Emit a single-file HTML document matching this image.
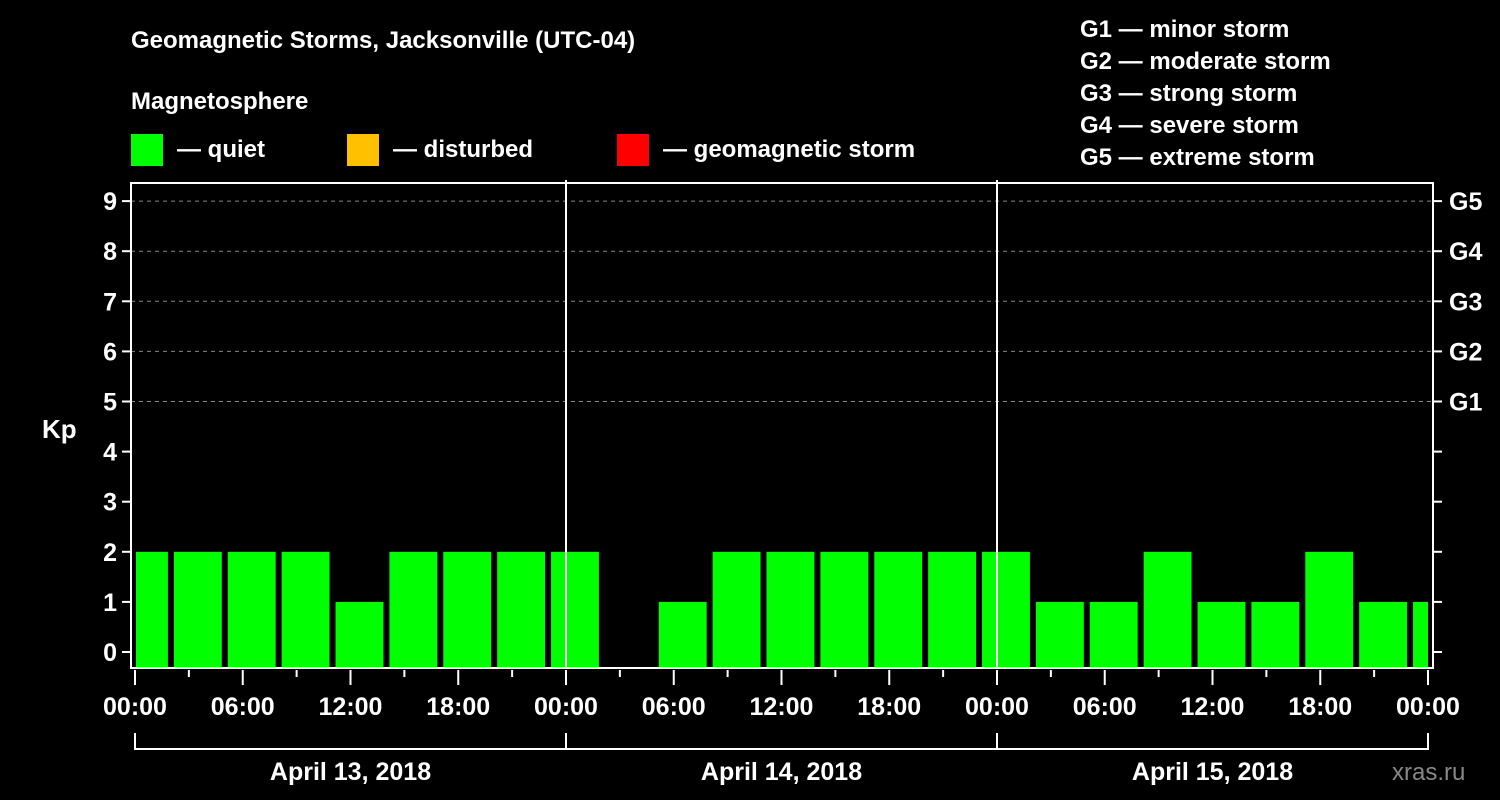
<!DOCTYPE html>
<html><head><meta charset="utf-8"><style>
body{margin:0;background:#000;}
svg{display:block;font-family:"Liberation Sans",Arial,sans-serif;font-weight:bold;}
</style></head><body>
<svg id="chart" width="1500" height="800" viewBox="0 0 1500 800">
<rect x="0" y="0" width="1500" height="800" fill="#000"/>
<text x="131" y="48" fill="#fff" font-size="24">Geomagnetic Storms, Jacksonville (UTC-04)</text>
<text x="131" y="109" fill="#fff" font-size="24">Magnetosphere</text>
<g><rect x="131" y="134" width="32" height="32" fill="#00ff00"/><text x="177" y="157" fill="#fff" font-size="24">— quiet</text></g>
<g><rect x="347" y="134" width="32" height="32" fill="#ffc000"/><text x="393" y="157" fill="#fff" font-size="24">— disturbed</text></g>
<g><rect x="617" y="134" width="32" height="32" fill="#ff0000"/><text x="663" y="157" fill="#fff" font-size="24">— geomagnetic storm</text></g>
<g fill="#fff" font-size="24">
<text x="1080" y="37">G1 — minor storm</text>
<text x="1080" y="69">G2 — moderate storm</text>
<text x="1080" y="101">G3 — strong storm</text>
<text x="1080" y="133">G4 — severe storm</text>
<text x="1080" y="165">G5 — extreme storm</text>
</g>
<text x="42" y="438" fill="#fff" font-size="26">Kp</text>
<text x="1392" y="780" fill="#888" font-size="24" font-weight="normal">xras.ru</text>
<g id="plot"></g>
</svg>
<script>
const kpValues=[2,2,2,2,1,2,2,2,2,0,1,2,2,2,2,2,2,1,1,2,1,1,2,1,1];
const barStartHours=-1;
const kpTicks=[0,1,2,3,4,5,6,7,8,9];
const gLabels=["G1","G2","G3","G4","G5"];
const timeLabels=["00:00","06:00","12:00","18:00","00:00","06:00","12:00","18:00","00:00","06:00","12:00","18:00","00:00"];
const dayLabels=["April 13, 2018","April 14, 2018","April 15, 2018"];

const NS="http://www.w3.org/2000/svg";
const g=document.getElementById('plot');
const X0=135,X1=1428,H=72;
const x=h=>X0+(X1-X0)*h/H;
const y=k=>652-k*50.1;
const L=131,R=1433,T=183,B=668;
function mk(t,a){const e=document.createElementNS(NS,t);for(const k in a)e.setAttribute(k,a[k]);g.appendChild(e);return e;}
function col(v){return v>=5?'#ff0000':(v>=4?'#ffc000':'#00ff00');}
// grid
for(const k of kpTicks){
  if(k>=5){const l=mk('line',{x1:L,x2:R,y1:y(k),y2:y(k),stroke:'#888','stroke-dasharray':'4 4','stroke-width':1});
  
  }
}
// bars
kpValues.forEach((v,i)=>{
  if(v<=0)return;
  const h0=barStartHours+i*3;
  let a=x(h0)+3,b=x(h0+3)-3;
  a=Math.max(a,L+5);b=Math.min(b,x(H));
  const r=mk('rect',{x:a,y:y(v),width:b-a,height:B-y(v),fill:col(v)});
  
  
});
// day separators
for(let d=1;d<3;d++){const l=mk('line',{x1:x(d*24),x2:x(d*24),y1:180,y2:B,stroke:'#fff','stroke-width':2});

}
// frame
const f=mk('rect',{x:L,y:T,width:R-L,height:B-T,fill:'none',stroke:'#fff','stroke-width':2});


// y ticks
for(const k of kpTicks){
  mk('line',{x1:L-9,x2:L,y1:y(k),y2:y(k),stroke:'#fff','stroke-width':2});
  mk('line',{x1:R,x2:R+9,y1:y(k),y2:y(k),stroke:'#fff','stroke-width':2});
  const t=mk('text',{x:L-14,y:y(k)+9,fill:'#fff','font-size':25,'text-anchor':'end'});t.textContent=k;
  
  
}
gLabels.forEach((s,i)=>{const t=mk('text',{x:1449,y:y(5+i)+9,fill:'#fff','font-size':25});t.textContent=s;

});
// x ticks
for(let h=0;h<=H;h+=3){const major=h%6===0;
  mk('line',{x1:x(h),x2:x(h),y1:B+2,y2:major?B+17:B+9,stroke:'#fff','stroke-width':2});}
timeLabels.forEach((s,i)=>{const t=mk('text',{x:x(i*6),y:715,fill:'#fff','font-size':25,'text-anchor':'middle'});t.textContent=s;

});
// day brackets
mk('polyline',{points:`${x(0)},733 ${x(0)},749 ${x(72)},749 ${x(72)},733`,fill:'none',stroke:'#fff','stroke-width':2});
for(let d=1;d<3;d++)mk('line',{x1:x(d*24),x2:x(d*24),y1:733,y2:749,stroke:'#fff','stroke-width':2});
dayLabels.forEach((s,i)=>{const t=mk('text',{x:x(i*24+12),y:780,fill:'#fff','font-size':25,'text-anchor':'middle'});t.textContent=s;

});
</script>
</body></html>
